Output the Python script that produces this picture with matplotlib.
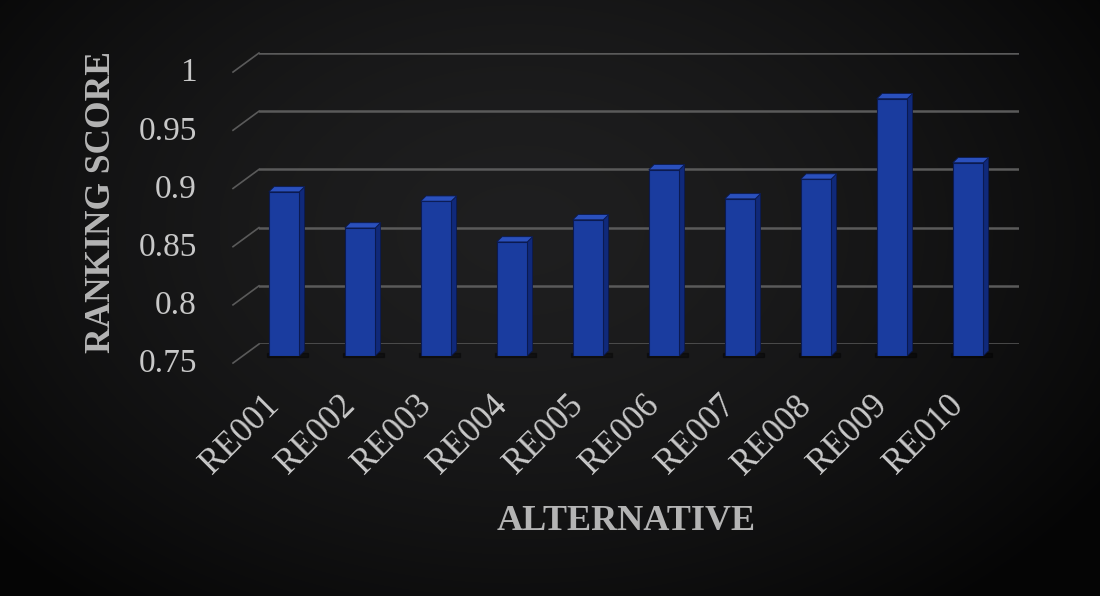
import numpy as np
import matplotlib
matplotlib.use("Agg")
import matplotlib.pyplot as plt

# data
alternatives = ["RE001", "RE002", "RE003", "RE004", "RE005",
                "RE006", "RE007", "RE008", "RE009", "RE010"]
scores = [0.891, 0.860, 0.883, 0.848, 0.867, 0.910, 0.885, 0.902, 0.971, 0.916]
yticks = [0.75, 0.8, 0.85, 0.9, 0.95, 1.0]
ytick_labels = ["0.75", "0.8", "0.85", "0.9", "0.95", "1"]

W, H = 1100, 596
fig = plt.figure(figsize=(W / 100, H / 100), dpi=100)
plt.rcParams['font.family'] = ['Liberation Serif', 'DejaVu Serif']

# dark radial background
bg = fig.add_axes([0, 0, 1, 1], zorder=-5)
yy, xx = np.mgrid[0:H, 0:W]
r = np.sqrt(((xx - 520) / 700.0) ** 2 + ((yy - 230) / 480.0) ** 2)
shade = np.clip(0.12 - 0.10 * r ** 1.6, 0.02, 0.125)
bg.imshow(np.dstack([shade, shade, shade * 1.03]).clip(0, 1), aspect='auto',
          extent=[0, 1, 0, 1])
bg.axis('off')


def px_box(x0, y0, x1, y1):
    return [x0 / W, 1 - y1 / H, (x1 - x0) / W, (y1 - y0) / H]


# back wall with gridlines
back = fig.add_axes(px_box(259, 53, 1019, 344))
back.set_xlim(0, len(alternatives))
back.set_ylim(0.75, 1.0)
back.patch.set_alpha(0)
for s in back.spines.values():
    s.set_visible(False)
back.set_xticks([])
back.set_yticks([])
for t, lab in zip(yticks, ytick_labels):
    back.axhline(t, color='#5a5a5a', lw=1.8, zorder=0)
    # floor-to-front diagonal stubs
    back.plot([-26 / 76, 0], [t - 19 / 1160, t], color='#5a5a5a', lw=1.2,
              clip_on=False)
    back.text(-62 / 76, t - 20 / 1160, lab,
              ha='right', va='center', fontsize=24, color='#c8c8c8')

# front plane holding the columns
front = fig.add_axes(px_box(246, 65, 1006, 356))
front.set_xlim(0, len(alternatives))
front.set_ylim(0.75, 1.0)
front.patch.set_alpha(0)
for s in front.spines.values():
    s.set_visible(False)
front.set_yticks([])
x = np.arange(len(alternatives)) + 0.5
bw = 0.40
dx, dy = 0.07, 0.0045
vals = np.array(scores)
front.bar(x, vals - 0.75, bottom=0.75, width=bw, color='#1a3c9f',
          edgecolor='#0b1a50', linewidth=0.8, zorder=3)
for xi, v in zip(x, vals):
    xl, xr = xi - bw / 2, xi + bw / 2
    # right side face
    front.fill([xr, xr + dx, xr + dx, xr], [0.75, 0.75 + dy, v + dy, v],
               color='#10297a', edgecolor='#0b1a50', lw=0.6, zorder=2)
    # top face
    front.fill([xl, xr, xr + dx, xl + dx], [v, v, v + dy, v + dy],
               color='#2a50bd', edgecolor='#0b1a50', lw=0.6, zorder=4)
    # floor shadow
    front.fill([xl - 0.03, xr + dx + 0.05, xr + dx + 0.05, xl - 0.03],
               [0.749, 0.749, 0.7525, 0.7525], color='black', alpha=0.35,
               zorder=1, clip_on=False)

front.set_xticks(x - 0.28)
front.set_xticklabels(alternatives, rotation=45, ha='right', va='top',
                      rotation_mode='anchor', fontsize=25, color='#c8c8c8')
front.tick_params(axis='x', length=0, pad=24)

fig.text(626 / W, 1 - 522 / H, "ALTERNATIVE", ha='center', va='center',
         fontsize=26, fontweight='bold', color='#b4b4b4')
fig.text(102 / W, 1 - 202 / H, "RANKING SCORE", ha='center', va='center',
         rotation=90, fontsize=25.5, fontweight='bold', color='#b4b4b4')

fig.savefig("out.png", dpi=100)
